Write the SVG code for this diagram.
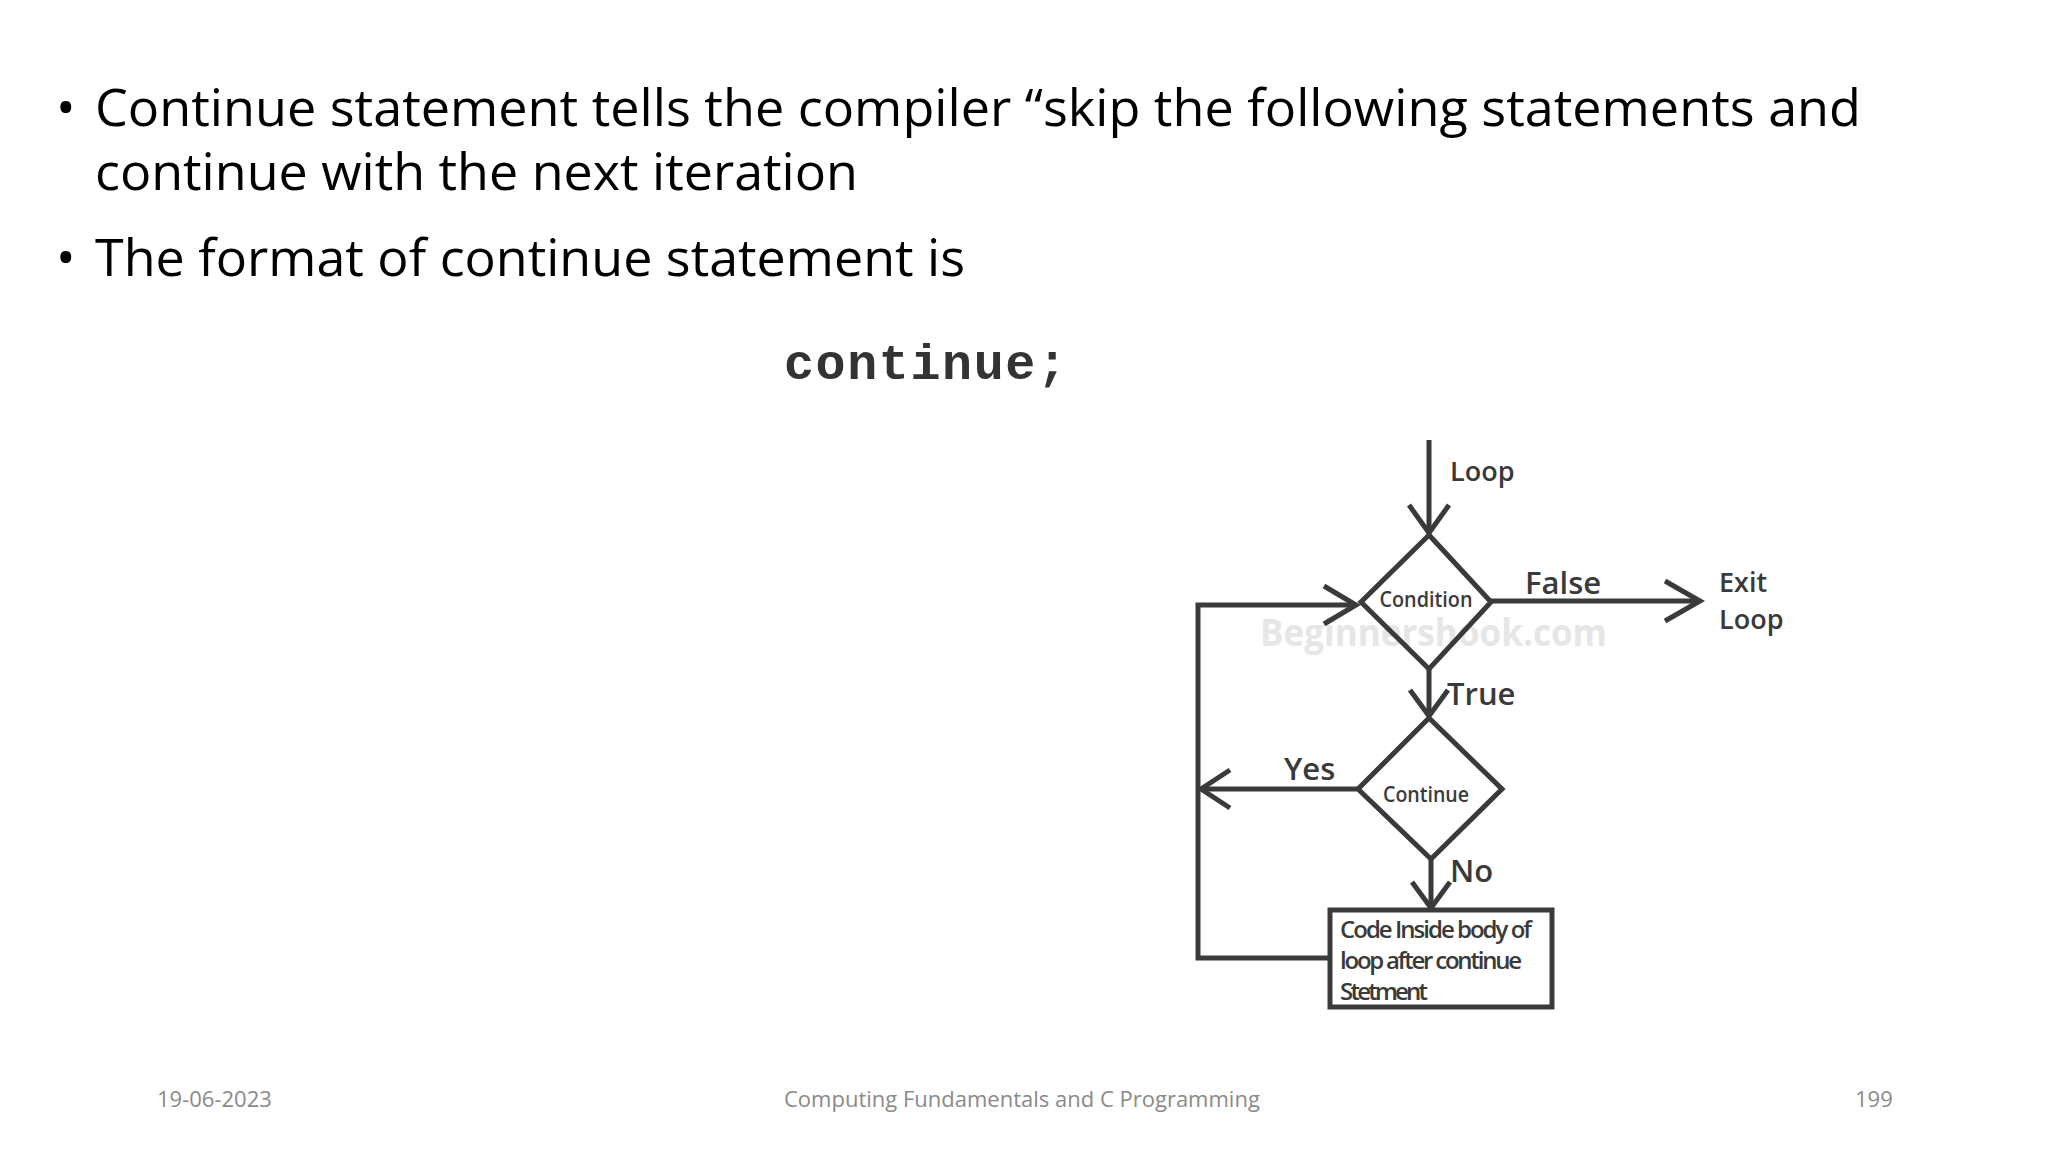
<svg xmlns="http://www.w3.org/2000/svg" width="2048" height="1152" viewBox="0 0 2048 1152">
<style>
.t{font-family:"Open Sans","Noto Sans",sans-serif;font-size:52px;fill:#000}
.f{font-family:"Open Sans",sans-serif;font-size:22px;fill:#8a8a8a}
.ln{stroke:#3a3a3a;stroke-width:5;fill:none;stroke-linejoin:miter}
.lb{font-family:"Open Sans",sans-serif;font-weight:600;fill:#3a3a3a}
</style>
<rect width="2048" height="1152" fill="#fff"/>
<g id="text">
<text class="t" x="56" y="126">•</text>
<text class="t" x="95" y="126" textLength="1766" lengthAdjust="spacingAndGlyphs">Continue statement tells the compiler “skip the following statements and</text>
<text class="t" x="95" y="190">continue with the next iteration</text>
<text class="t" x="56" y="276">•</text>
<text class="t" x="95" y="276">The format of continue statement is</text>
<text x="784" y="379" font-family="Liberation Mono,monospace" font-weight="bold" font-size="50" fill="#333" textLength="283">continue;</text>
</g>
<text x="1260" y="646" font-family="Open Sans,sans-serif" font-weight="700" font-size="38" fill="#e6e6e6" textLength="347" lengthAdjust="spacingAndGlyphs">Beginnershook.com</text>
<g id="connectors">
<path class="ln" d="M1429,440 V533"/>
<path class="ln" d="M1409,505 L1429,533 L1449,505"/>
<path class="ln" d="M1491,601 H1700"/>
<path class="ln" d="M1665,581 L1700,601 L1665,621"/>
<path class="ln" d="M1429,669 V716"/>
<path class="ln" d="M1410,690 L1429,716 L1448,690"/>
<path class="ln" d="M1358,789 H1201"/>
<path class="ln" d="M1230,770 L1201,789 L1230,808"/>
<path class="ln" d="M1431,859 V908"/>
<path class="ln" d="M1412,882 L1431,908 L1450,882"/>
<path class="ln" d="M1330,958 H1198 V605 H1356"/>
<path class="ln" d="M1324,586 L1356,605 L1324,624"/>
</g>
<g id="condition">
<path class="ln" d="M1429,535 L1491,602 L1429,669 L1361,602 Z"/>
<text class="lb" x="1426" y="607" font-size="22" textLength="93" lengthAdjust="spacingAndGlyphs" text-anchor="middle">Condition</text>
</g>
<g id="continue">
<path class="ln" d="M1429,718 L1502,789 L1431,859 L1358,789 Z"/>
<text class="lb" x="1426" y="802" font-size="22" textLength="86" lengthAdjust="spacingAndGlyphs" text-anchor="middle">Continue</text>
</g>
<g id="body">
<rect class="ln" x="1330" y="910" width="222" height="97"/>
<text class="lb" font-size="24" lengthAdjust="spacingAndGlyphs"><tspan x="1340" y="938" textLength="192">Code Inside body of</tspan><tspan x="1340" y="969" textLength="182">loop after continue</tspan><tspan x="1340" y="1000" textLength="88">Stetment</tspan></text>
</g>
<g id="labels">
<text class="lb" x="1450" y="481" font-size="27">Loop</text>
<text class="lb" x="1525" y="594" font-size="31">False</text>
<text class="lb" x="1719" y="592" font-size="27">Exit</text>
<text class="lb" x="1719" y="629" font-size="27">Loop</text>
<text class="lb" x="1447" y="705" font-size="31">True</text>
<text class="lb" x="1284" y="780" font-size="31">Yes</text>
<text class="lb" x="1450" y="882" font-size="31">No</text>
</g>
<g id="footer">
<text class="f" x="157" y="1107">19-06-2023</text>
<text class="f" x="784" y="1107">Computing Fundamentals and C Programming</text>
<text class="f" x="1855" y="1107">199</text>
</g>
</svg>
